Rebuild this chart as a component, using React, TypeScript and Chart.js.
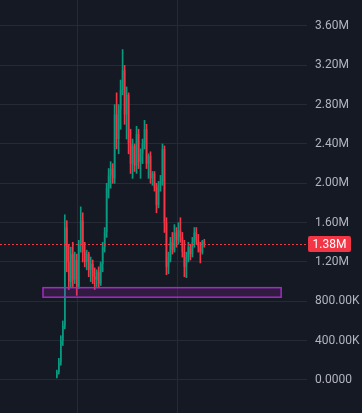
import React, { useEffect, useRef } from "react";
import { Chart, registerables } from "chart.js";

Chart.register(...registerables);

// Candles (values in millions), one per time slot, left to right
const OPEN = [
  0.03, 0.08, 0.18, 0.40, 0.55, 1.55, 1.20, 1.00, 1.28, 1.02,
  1.22, 0.95, 1.38, 1.62, 1.30, 1.20, 1.28, 1.12, 1.18, 1.05,
  1.02, 1.10, 0.98, 1.18, 1.35, 1.50, 1.95, 2.08, 2.15, 2.05,
  2.70, 2.45, 2.75, 2.95, 3.15, 2.70, 2.90, 2.40, 2.20, 2.38,
  2.18, 2.50, 2.22, 2.30, 2.40, 2.55, 2.20, 2.28, 2.05, 2.10,
  1.96, 1.78, 1.98, 2.02, 2.35, 1.60, 1.15, 1.25, 1.40, 1.32,
  1.50, 1.42, 1.52, 1.45, 1.30, 1.15, 1.25, 1.35, 1.28, 1.40,
  1.50, 1.42, 1.35, 1.30, 1.41,
];
const HIGH = [
  0.10, 0.22, 0.45, 0.60, 1.68, 1.62, 1.38, 1.35, 1.40, 1.30,
  1.28, 1.42, 1.76, 1.70, 1.40, 1.32, 1.30, 1.25, 1.22, 1.14,
  1.12, 1.15, 1.20, 1.40, 1.55, 2.00, 2.15, 2.22, 2.20, 2.80,
  2.92, 2.80, 3.05, 3.36, 3.20, 2.98, 2.92, 2.55, 2.45, 2.40,
  2.58, 2.55, 2.35, 2.45, 2.64, 2.60, 2.30, 2.32, 2.12, 2.12,
  2.00, 2.02, 2.08, 2.40, 2.38, 1.65, 1.30, 1.45, 1.50, 1.58,
  1.55, 1.60, 1.65, 1.50, 1.42, 1.30, 1.40, 1.38, 1.45, 1.55,
  1.55, 1.48, 1.40, 1.42, 1.43,
];
const LOW = [
  0.02, 0.06, 0.15, 0.35, 0.52, 1.10, 0.92, 0.94, 0.95, 0.98,
  0.86, 0.93, 1.30, 1.20, 1.15, 1.12, 1.05, 1.00, 0.98, 0.92,
  0.95, 0.94, 0.96, 1.10, 1.30, 1.45, 1.85, 1.95, 2.00, 2.00,
  2.35, 2.30, 2.55, 2.90, 2.60, 2.45, 2.30, 2.10, 2.05, 2.12,
  2.10, 2.15, 2.05, 2.20, 2.35, 2.15, 2.05, 2.00, 1.98, 1.92,
  1.70, 1.75, 1.92, 1.98, 1.50, 1.07, 1.08, 1.20, 1.28, 1.30,
  1.35, 1.38, 1.40, 1.25, 1.05, 1.04, 1.20, 1.22, 1.25, 1.35,
  1.38, 1.30, 1.19, 1.28, 1.35,
];
const CLOSE = [
  0.08, 0.18, 0.40, 0.55, 1.55, 1.20, 1.00, 1.28, 1.02, 1.22,
  0.95, 1.38, 1.62, 1.30, 1.20, 1.28, 1.12, 1.18, 1.05, 1.02,
  1.10, 0.98, 1.18, 1.35, 1.50, 1.95, 2.08, 2.15, 2.05, 2.70,
  2.45, 2.75, 2.95, 3.15, 2.70, 2.90, 2.40, 2.20, 2.38, 2.18,
  2.50, 2.22, 2.30, 2.40, 2.55, 2.20, 2.28, 2.05, 2.10, 1.96,
  1.78, 1.98, 2.02, 2.35, 1.60, 1.15, 1.25, 1.40, 1.32, 1.50,
  1.42, 1.52, 1.45, 1.30, 1.15, 1.25, 1.35, 1.28, 1.40, 1.50,
  1.42, 1.35, 1.30, 1.41, 1.38,
];

const FIRST_SLOT = 28; // time slot of first candle
const TOTAL_SLOTS = 154; // visible time slots
const TIME_GRID = [38.6, 88.3]; // vertical grid marks (slot positions)
const Y_TICKS = [0, 400000, 800000, 1200000, 1600000, 2000000, 2400000, 2800000, 3200000, 3600000];
const Y_MIN = -336000;
const Y_MAX = 3864000;
const LAST_PRICE = 1380000;
const ZONE = { from: 20.7, to: 140.9, low: 834000, high: 946000 };

const UP = "#089981";
const DOWN = "#f23645";
const BG = "#151924";
const GRID = "#262a36";
const TEXT = "#b2b5be";

function fmt(v: number): string {
  if (v === 0) return "0.0000";
  if (Math.abs(v) >= 1e6) return (v / 1e6).toFixed(2) + "M";
  if (Math.abs(v) >= 1e3) return (v / 1e3).toFixed(2) + "K";
  return v.toFixed(4);
}

const overlayPlugin = {
  id: "overlay",
  afterDatasetsDraw(chart: any) {
    const { ctx, chartArea, scales } = chart;
    const x = scales.x;
    const y = scales.y;
    // zone box
    const zx1 = x.getPixelForValue(ZONE.from);
    const zx2 = x.getPixelForValue(ZONE.to);
    const zy1 = y.getPixelForValue(ZONE.high);
    const zy2 = y.getPixelForValue(ZONE.low);
    ctx.save();
    ctx.fillStyle = "rgba(156,39,176,0.2)";
    ctx.fillRect(zx1, zy1, zx2 - zx1, zy2 - zy1);
    ctx.strokeStyle = "#a22cc4";
    ctx.lineWidth = 1.5;
    ctx.strokeRect(zx1 + 0.75, zy1 + 0.75, zx2 - zx1 - 1.5, zy2 - zy1 - 1.5);
    // price line
    const py = Math.round(y.getPixelForValue(LAST_PRICE)) + 0.5;
    ctx.strokeStyle = DOWN;
    ctx.lineWidth = 1;
    ctx.setLineDash([2, 2]);
    ctx.beginPath();
    ctx.moveTo(chartArea.left, py);
    ctx.lineTo(chartArea.right, py);
    ctx.stroke();
    ctx.restore();
  },
  afterDraw(chart: any) {
    const { ctx, chartArea, scales } = chart;
    const y = scales.y;
    const py = Math.round(y.getPixelForValue(LAST_PRICE));
    const bx = chartArea.right + 1;
    const bw = 43;
    const bh = 16;
    ctx.save();
    ctx.fillStyle = DOWN;
    ctx.beginPath();
    (ctx as any).roundRect(bx, py - bh / 2, bw, bh, 2);
    ctx.fill();
    ctx.fillStyle = "#ffffff";
    ctx.font = "12px Roboto, 'Liberation Sans', sans-serif";
    ctx.textAlign = "center";
    ctx.textBaseline = "middle";
    ctx.fillText(fmt(LAST_PRICE), bx + bw / 2, py + 1);
    ctx.restore();
  },
};

const zeroPad = (axis: any) => {
  axis.paddingTop = 0;
  axis.paddingBottom = 0;
  axis.paddingLeft = 0;
  axis.paddingRight = 0;
};

export default function App() {
  const ref = useRef<HTMLCanvasElement | null>(null);

  useEffect(() => {
    if (!ref.current) return;
    const M = 1e6;
    const wicks = OPEN.map((_, i) => ({ x: FIRST_SLOT + i, y: [LOW[i] * M, HIGH[i] * M] }));
    const bodies = OPEN.map((o, i) => ({
      x: FIRST_SLOT + i,
      y: [Math.min(o, CLOSE[i]) * M, Math.max(o, CLOSE[i]) * M],
    }));
    const colors = OPEN.map((o, i) => (CLOSE[i] >= o ? UP : DOWN));

    const chart = new Chart(ref.current, {
      type: "bar",
      data: {
        datasets: [
          {
            data: wicks as any,
            backgroundColor: colors,
            barThickness: 1,
            grouped: false,
          } as any,
          {
            data: bodies as any,
            backgroundColor: colors,
            barPercentage: 0.8,
            categoryPercentage: 1,
            minBarLength: 1,
            grouped: false,
          } as any,
        ],
      },
      options: {
        responsive: false,
        animation: false,
        layout: { padding: 0 },
        plugins: { legend: { display: false }, tooltip: { enabled: false } },
        scales: {
          x: {
            type: "linear",
            min: -0.5,
            max: TOTAL_SLOTS - 0.5,
            offset: false,
            ticks: { display: false },
            grid: { color: GRID, drawTicks: false, offset: false },
            border: { display: false },
            afterBuildTicks: (axis: any) => {
              axis.ticks = TIME_GRID.map((v) => ({ value: v }));
            },
            afterFit: (axis: any) => {
              axis.height = 0;
              zeroPad(axis);
            },
          },
          y: {
            position: "right",
            min: Y_MIN,
            max: Y_MAX,
            grid: { color: GRID, drawTicks: false },
            border: { display: false },
            afterBuildTicks: (axis: any) => {
              axis.ticks = Y_TICKS.map((v) => ({ value: v }));
            },
            afterFit: (axis: any) => {
              axis.width = 55;
              zeroPad(axis);
            },
            ticks: {
              padding: 8,
              color: TEXT,
              font: { family: "Roboto, 'Liberation Sans', sans-serif", size: 12 },
              callback: (v: any) => fmt(Number(v)),
            },
          },
        },
      } as any,
      plugins: [overlayPlugin],
    });
    return () => chart.destroy();
  }, []);

  return (
    <div
      style={{
        position: "fixed",
        left: 0,
        top: 0,
        width: 362,
        height: 413,
        background: BG,
      }}
    >
      <canvas ref={ref} width={362} height={413} style={{ display: "block" }} />
    </div>
  );
}
